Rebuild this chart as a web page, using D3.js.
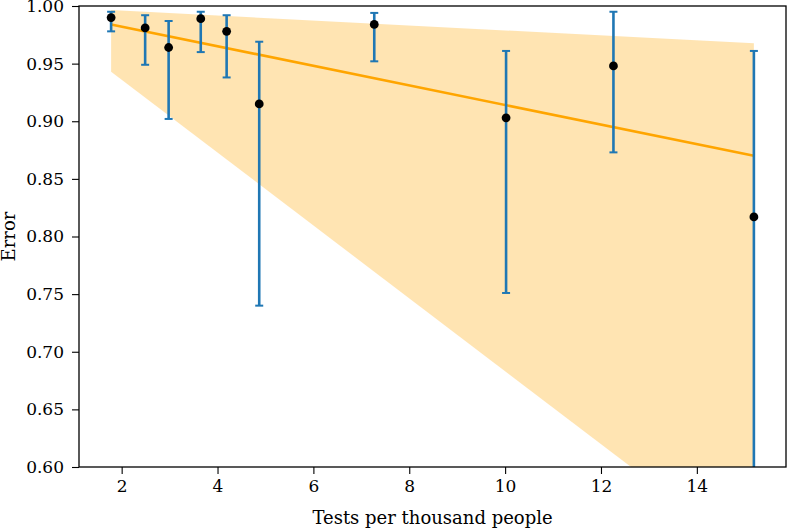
<!DOCTYPE html>
<html>
<head>
<meta charset="utf-8">
<script src="https://cdn.jsdelivr.net/npm/d3@7"></script>
<style>
  html, body { margin: 0; padding: 0; background: #fff; }
  svg { display: block; }
  text { font-family: "DejaVu Serif", "Liberation Serif", serif; fill: #000; }
</style>
</head>
<body>
<svg id="chart" width="788" height="528"></svg>
<script>
// ---- data ----
const testsPerThousand = [1.78, 2.49, 2.98, 3.65, 4.19, 4.87, 7.27, 10.02, 12.26, 15.19];
const errorMean  = [0.990, 0.981, 0.964, 0.989, 0.978, 0.915, 0.984, 0.903, 0.948, 0.817];
const errorUpper = [0.995, 0.992, 0.987, 0.995, 0.992, 0.969, 0.994, 0.961, 0.995, 0.961];
const errorLower = [0.978, 0.949, 0.902, 0.960, 0.938, 0.740, 0.952, 0.751, 0.873, 0.540];

const fitX = [1.78, 15.19];
const fitY = [0.984, 0.870];
const bandUpper = [0.9965, 0.9676];
const bandLower = [0.943, 0.519];

const xTicks = [2, 4, 6, 8, 10, 12, 14];
const yTicks = [0.60, 0.65, 0.70, 0.75, 0.80, 0.85, 0.90, 0.95, 1.00];
const xLabel = "Tests per thousand people";
const yLabel = "Error";

// ---- layout ----
const svg = d3.select("#chart");
const L = 79, R = 786, T = 6, B = 467;

const x = d3.scaleLinear().domain([1.11, 15.86]).range([L, R]);
const y = d3.scaleLinear().domain([0.60, 1.00]).range([B, T]);

const defs = svg.append("defs");
defs.append("clipPath").attr("id", "clip")
  .append("rect").attr("x", L).attr("y", T).attr("width", R - L).attr("height", B - T);

const plot = svg.append("g").attr("clip-path", "url(#clip)");

// confidence band
const bandData = fitX.map((d, i) => ({x: d, lo: bandLower[i], hi: bandUpper[i]}));
plot.append("path")
  .datum(bandData)
  .attr("d", d3.area().x(d => x(d.x)).y0(d => y(d.lo)).y1(d => y(d.hi)))
  .attr("fill", "orange")
  .attr("fill-opacity", 0.3)
  .attr("stroke", "none");

// fit line
plot.append("path")
  .datum(fitX.map((d, i) => ({x: d, y: fitY[i]})))
  .attr("d", d3.line().x(d => x(d.x)).y(d => y(d.y)))
  .attr("fill", "none")
  .attr("stroke", "#FFA500")
  .attr("stroke-width", 2.6);

// error bars
const pts = testsPerThousand.map((d, i) => ({x: d, m: errorMean[i], lo: errorLower[i], hi: errorUpper[i]}));
const eb = plot.append("g").attr("stroke", "#1f77b4").attr("stroke-width", 2.6);
eb.selectAll("line.v").data(pts).join("line")
  .attr("x1", d => x(d.x)).attr("x2", d => x(d.x))
  .attr("y1", d => y(d.lo)).attr("y2", d => y(d.hi));
eb.selectAll("line.ct").data(pts).join("line")
  .attr("x1", d => x(d.x) - 4).attr("x2", d => x(d.x) + 4)
  .attr("y1", d => y(d.hi)).attr("y2", d => y(d.hi))
  .attr("stroke-width", 2);
eb.selectAll("line.cb").data(pts).join("line")
  .attr("x1", d => x(d.x) - 4).attr("x2", d => x(d.x) + 4)
  .attr("y1", d => y(d.lo)).attr("y2", d => y(d.lo))
  .attr("stroke-width", 2);

// points
plot.append("g").selectAll("circle").data(pts).join("circle")
  .attr("cx", d => x(d.x)).attr("cy", d => y(d.m)).attr("r", 4.4)
  .attr("fill", "#000");

// axes
const fontSize = 17;
const xAxis = svg.append("g").attr("transform", `translate(0,${B})`)
  .call(d3.axisBottom(x).tickValues(xTicks).tickSize(7).tickPadding(6).tickFormat(d3.format("d")));
const yAxis = svg.append("g").attr("transform", `translate(${L},0)`)
  .call(d3.axisLeft(y).tickValues(yTicks).tickSize(7).tickPadding(8).tickFormat(d3.format(".2f")));
[xAxis, yAxis].forEach(a => {
  a.select(".domain").remove();
  a.selectAll(".tick line").attr("stroke", "#000").attr("stroke-width", 1.1);
  a.selectAll(".tick text").attr("font-size", fontSize)
    .attr("font-family", "'DejaVu Serif', serif").attr("fill", "#000");
});

// spines
svg.append("rect").attr("x", L).attr("y", T).attr("width", R - L).attr("height", B - T)
  .attr("fill", "none").attr("stroke", "#000").attr("stroke-width", 1.3);

// labels
svg.append("text")
  .attr("x", (L + R) / 2).attr("y", 524)
  .attr("text-anchor", "middle").attr("font-size", 18)
  .text(xLabel);
svg.append("text")
  .attr("transform", `translate(15,${(T + B) / 2}) rotate(-90)`)
  .attr("text-anchor", "middle").attr("font-size", 18)
  .text(yLabel);
</script>
</body>
</html>
